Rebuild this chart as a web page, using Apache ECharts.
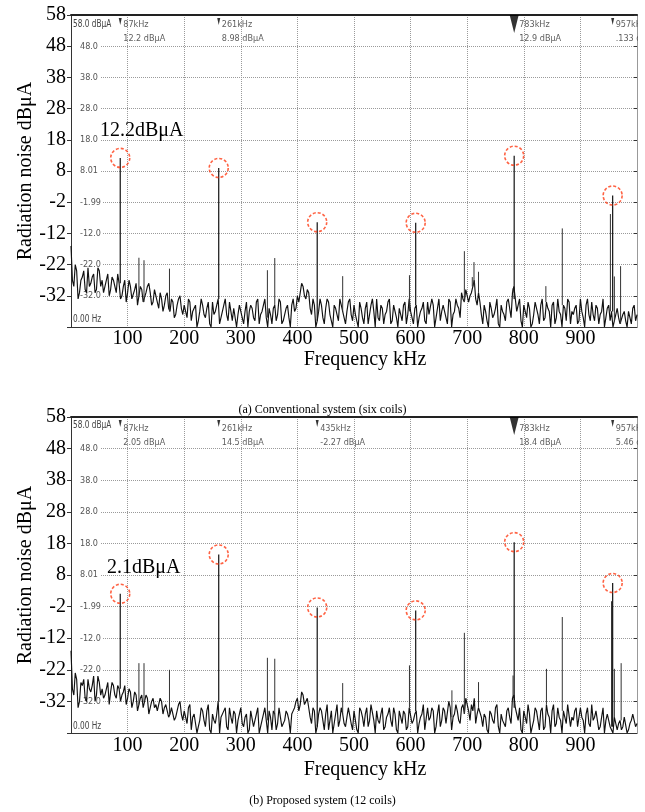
<!DOCTYPE html>
<html><head><meta charset="utf-8">
<script src="https://cdn.jsdelivr.net/npm/echarts@6/dist/echarts.min.js"></script>
<style>html,body{margin:0;padding:0;background:#fff}#c{width:645px;height:812px}</style>
</head><body><div id="c"></div>
<script>
// ---------------- data ----------------
const noiseStepKHz = 5; // spacing of noise-floor samples (kHz); *Mid arrays sit half-way between
const noiseTop = [
-16,-29,-24,-31,-26,-30,-23,-28,-25,-30,-24,-27,-29,-25,-30,-27,-31,-28,-32,-27,
-31,-29,-33,-28,-32,-30,-34,-29,-31,-34,-32,-36,-33,-35,-31,-37,-34,-38,-33,-36,
-35,-39,-34,-37,-35,-40,-33,-38,-36,-41,-34,-37,-33,-39,-35,-38,-34,-40,-36,-38,
-35,-41,-34,-37,-36,-40,-33,-38,-35,-39,-36,-41,-35,-38,-34,-40,-36,-39,-35,-37,
-32,-31,-29,-33,-31,-38,-35,-40,-33,-39,-36,-34,-40,-35,-38,-33,-37,-41,-34,-38,
-35,-40,-34,-39,-36,-41,-35,-37,-33,-40,-36,-38,-34,-41,-35,-39,-36,-40,-34,-38,
-37,-41,-35,-39,-36,-40,-34,-38,-35,-39,-33,-37,-35,-41,-34,-38,-33,-36,-31,-34,
-30,-32,-29,-33,-31,-38,-35,-40,-34,-39,-36,-41,-35,-38,-34,-36,-31,-33,-37,-40,
-35,-39,-36,-41,-34,-38,-35,-40,-34,-37,-35,-41,-33,-38,-35,-40,-34,-37,-36,-41,
-33,-39,-35,-38,-34,-40,-36,-38,-33,-39,-35,-37,-40,-36,-41,-38,-40,-37,-41,-35,
-38];
const noiseTopMid = [
-27,-22,-33,-27,-24,-31,-29,-26,-31,-23,-29,-31,-27,-32,-26,-29,-25,-33,-29,-34,
-27,-33,-30,-35,-29,-34,-31,-28,-35,-30,-34,-31,-37,-32,-36,-33,-39,-35,-32,-38,
-37,-33,-40,-36,-42,-37,-35,-39,-34,-42,-38,-35,-41,-37,-33,-40,-37,-36,-42,-35,
-39,-37,-42,-35,-39,-34,-41,-37,-33,-42,-38,-36,-40,-33,-41,-38,-35,-42,-33,-36,
-34,-28,-32,-30,-36,-33,-42,-37,-35,-41,-33,-38,-42,-36,-40,-35,-39,-37,-33,-40,
-38,-42,-36,-41,-34,-38,-33,-42,-39,-35,-41,-37,-33,-40,-37,-42,-38,-35,-41,-33,
-39,-36,-42,-37,-34,-41,-38,-33,-42,-36,-40,-35,-39,-33,-42,-37,-35,-39,-33,-30,
-34,-31,-27,-35,-34,-41,-37,-42,-36,-38,-33,-42,-37,-40,-33,-39,-29,-37,-33,-42,
-37,-34,-42,-38,-36,-41,-33,-39,-36,-42,-34,-39,-37,-42,-36,-33,-41,-38,-35,-40,
-37,-42,-33,-40,-38,-35,-41,-37,-42,-36,-40,-42,-38,-39,-41,-37,-42,-39,-36,-40];
const noiseBot = [
-16,-30,-25,-32,-27,-31,-25,-29,-24,-30,-26,-28,-30,-26,-29,-27,-31,-28,-30,-27,
-31,-29,-32,-30,-33,-30,-32,-31,-34,-31,-33,-35,-32,-34,-33,-36,-34,-37,-33,-36,
-35,-39,-33,-37,-36,-40,-34,-38,-35,-41,-36,-39,-32,-37,-35,-40,-34,-39,-36,-38,
-34,-40,-36,-41,-35,-38,-34,-40,-36,-38,-35,-41,-36,-39,-34,-40,-35,-38,-36,-34,
-31,-33,-30,-32,-34,-39,-35,-40,-34,-38,-36,-41,-35,-39,-33,-38,-36,-40,-34,-39,
-35,-41,-34,-37,-36,-40,-33,-38,-35,-39,-34,-40,-36,-38,-34,-41,-35,-39,-36,-40,
-34,-38,-35,-39,-36,-41,-34,-37,-35,-40,-33,-38,-35,-39,-34,-37,-33,-38,-34,-36,
-33,-38,-35,-39,-34,-37,-36,-41,-35,-38,-34,-40,-36,-39,-35,-37,-31,-34,-38,-41,
-35,-39,-36,-40,-34,-38,-35,-41,-33,-37,-35,-40,-34,-38,-35,-39,-33,-37,-35,-40,
-34,-38,-36,-39,-33,-37,-35,-40,-34,-38,-36,-40,-37,-41,-38,-40,-37,-41,-38,-36,
-39];
const noiseBotMid = [
-28,-23,-34,-26,-25,-32,-28,-27,-32,-24,-30,-31,-28,-33,-26,-30,-27,-32,-29,-33,
-28,-34,-29,-35,-31,-34,-30,-36,-32,-34,-35,-31,-36,-33,-37,-34,-38,-35,-32,-38,
-37,-34,-41,-36,-42,-38,-35,-40,-33,-42,-38,-36,-42,-37,-34,-41,-37,-35,-42,-36,
-39,-37,-42,-35,-40,-36,-42,-38,-34,-42,-37,-35,-41,-34,-40,-38,-36,-42,-35,-32,
-35,-29,-33,-31,-37,-34,-42,-36,-35,-41,-33,-38,-42,-36,-40,-34,-39,-37,-34,-41,
-38,-42,-35,-40,-34,-38,-33,-42,-38,-36,-41,-37,-34,-40,-36,-42,-37,-35,-41,-34,
-39,-36,-42,-37,-33,-41,-38,-34,-42,-36,-40,-34,-39,-32,-41,-36,-35,-39,-33,-31,
-35,-33,-31,-36,-34,-40,-37,-42,-36,-39,-33,-42,-38,-40,-34,-39,-30,-36,-34,-42,
-37,-33,-42,-38,-35,-41,-34,-40,-36,-42,-33,-39,-37,-42,-35,-33,-40,-38,-34,-40,
-37,-42,-34,-40,-38,-35,-41,-37,-42,-36,-40,-42,-37,-39,-41,-37,-42,-39,-36,-40];
const mainFreq = [87, 261, 435, 609, 783, 957];
const mainTop = [12.2, 8.98, -8.4, -8.6, 12.9, 0.133];
const mainBot = [2.05, 14.5, -2.27, -3.2, 18.4, 5.46];
const sideFreqTop = [120, 129, 174, 347, 360, 480, 598, 695, 709, 712, 720, 781, 839, 868, 953, 960, 971];
const sideTop = [-19.8, -20.6, -23.3, -23.8, -19.9, -25.7, -25.4, -17.7, -26, -21.2, -24.3, -29.6, -28.9, -10.4, -5.8, -25.8, -22.5];
const sideFreqBot = [120, 129, 174, 347, 360, 480, 598, 673, 695, 720, 781, 840, 868, 955, 960, 972];
const sideBot = [-19.9, -19.9, -22, -18.2, -18.5, -26.2, -20.6, -28.5, -10.3, -25.9, -23.8, -21.7, -5.3, -0.3, -21.7, -19.9];
const markerFreqTop = [87, 261, 783, 957];
const markerTextTop = [['87kHz', '12.2 dBμA'], ['261kHz', '8.98 dBμA'], ['783kHz', '12.9 dBμA'], ['957kHz', '.133 dBμA']];
const markerFreqBot = [87, 261, 435, 783, 957];
const markerTextBot = [['87kHz', '2.05 dBμA'], ['261kHz', '14.5 dBμA'], ['435kHz', '-2.27 dBμA'], ['783kHz', '18.4 dBμA'], ['957kHz', '5.46 dBμA']];
const activeMarkerFreq = 783;
const innerYValues = [48, 38, 28, 18, 8, -2, -12, -22, -32];
const innerYLabels = ['48.0', '38.0', '28.0', '18.0', '8.01', '-1.99', '-12.0', '-22.0', '-32.0'];
const refLevelText = '58.0 dBμA';
const startFreqText = '0.00 Hz';
const calloutTop = '12.2dBμA';
const calloutBot = '2.1dBμA';
const captionTop = '(a) Conventional system (six coils)';
const captionBot = '(b) Proposed system (12 coils)';
const xName = 'Frequency kHz';
const yName = 'Radiation noise dBμA';

// ---------------- chart ----------------
const SERIF = '"Liberation Serif","Times New Roman",serif';
const NARROW = '"Liberation Sans Narrow","DejaVu Sans Condensed",sans-serif';
const chart = echarts.init(document.getElementById('c'), null, {renderer: 'canvas'});

const grids = [
  {left: 71, top: 15, width: 566, height: 312},
  {left: 71, top: 417, width: 566, height: 316}
];

function innerLabel(v) {
  const i = innerYValues.indexOf(Math.round(v));
  return i >= 0 ? '{b|' + innerYLabels[i] + '}' : '';
}

const gridLine = {show: true, showMinLine: false, showMaxLine: false,
  lineStyle: {color: '#9a9a9a', type: [1, 1], width: 1}};

const xAxes = [], yAxes = [], series = [];
[0, 1].forEach(g => {
  xAxes.push({
    gridIndex: g, type: 'value', min: 0, max: 1000, interval: 100,
    axisLine: {show: true, onZero: false, lineStyle: {color: '#333', width: 1}},
    axisTick: {show: false},
    axisLabel: {formatter: v => (v === 0 || v === 1000) ? '' : String(v), color: '#000',
      fontFamily: SERIF, fontSize: 20, margin: g === 0 ? 2 : 3},
    splitLine: gridLine,
    name: xName, nameLocation: 'middle', nameGap: g === 0 ? 23 : 27, nameMoveOverlap: false,
    nameTextStyle: {fontFamily: SERIF, fontSize: 20, color: '#000', padding: [0, 0, 0, 22]}
  });
  xAxes.push({
    gridIndex: g, type: 'value', min: 0, max: 1000, position: 'top',
    axisLine: {show: true, onZero: false, lineStyle: {color: '#222', width: 2}},
    axisTick: {show: false}, axisLabel: {show: false}, splitLine: {show: false}
  });
  yAxes.push({
    gridIndex: g, type: 'value', min: -42, max: 58, interval: 10,
    axisLine: {show: true, onZero: false, lineStyle: {color: '#333'}},
    axisTick: {show: true, length: 4, lineStyle: {color: '#333'}},
    axisLabel: {formatter: v => v === -42 ? '' : String(v), color: '#000', fontFamily: SERIF,
      fontSize: 20, margin: 5, padding: [6, 0, 0, 0]},
    splitLine: gridLine,
    name: yName, nameLocation: 'middle', nameGap: 35, nameMoveOverlap: false,
    nameTextStyle: {fontFamily: SERIF, fontSize: 20, color: '#000'}
  });
  yAxes.push({
    gridIndex: g, type: 'value', min: -42, max: 58, interval: 10, position: 'left',
    axisLine: {show: false, onZero: false}, axisTick: {show: false}, splitLine: {show: false},
    axisLabel: {inside: true, margin: 2, formatter: innerLabel,
      rich: {b: {color: '#555', fontFamily: NARROW, fontSize: 9, backgroundColor: '#fff', padding: [1, 2, 1, 7]}}}
  });
  yAxes.push({
    gridIndex: g, type: 'value', min: -42, max: 58, interval: 10, position: 'right',
    axisLine: {show: true, onZero: false, lineStyle: {color: '#999'}},
    axisTick: {show: true, inside: true, length: 3, lineStyle: {color: '#333'}},
    axisLabel: {show: false}, splitLine: {show: false}
  });
});

function buildChart(g, noise, noiseMid, mainVals, sideF, sideV, mkF, mkT) {
  const xi = g * 2, yi = g * 3;
  // noise floor trace: samples interleaved with the half-step samples
  const trace = [];
  noise.forEach((v, i) => {
    trace.push([i * noiseStepKHz, v]);
    if (i < noiseMid.length) trace.push([(i + 0.5) * noiseStepKHz, noiseMid[i]]);
  });
  series.push({
    type: 'line', xAxisIndex: xi, yAxisIndex: yi, symbol: 'none', animation: false,
    data: trace, lineStyle: {color: '#111', width: 1.15}, z: 3
  });
  // spectral lines (side spurs)
  const sideData = [];
  sideF.forEach((f, i) => {
    const base = noise[Math.round(f / noiseStepKHz)];
    sideData.push([f, base], [f, sideV[i]], [f, '-']);
  });
  series.push({
    type: 'line', xAxisIndex: xi, yAxisIndex: yi, symbol: 'none', animation: false,
    connectNulls: false, data: sideData, lineStyle: {color: '#333', width: 1}, z: 4
  });
  // main harmonic peaks
  const mainData = [];
  mainFreq.forEach((f, i) => {
    const base = noise[Math.round(f / noiseStepKHz)];
    mainData.push([f, base], [f, mainVals[i]], [f, '-']);
  });
  series.push({
    type: 'line', xAxisIndex: xi, yAxisIndex: yi, symbol: 'none', animation: false,
    connectNulls: false, data: mainData, lineStyle: {color: '#111', width: 1.2}, z: 5
  });
  // dashed red circles
  series.push({
    type: 'scatter', xAxisIndex: xi, yAxisIndex: yi, animation: false, symbol: 'circle',
    symbolSize: 19, data: mainFreq.map((f, i) => [f, mainVals[i]]),
    itemStyle: {color: 'rgba(0,0,0,0)', borderColor: '#ff3b14', borderWidth: 1.6, borderType: [3, 2]},
    z: 6, silent: true
  });
  // marker triangles
  series.push({
    type: 'scatter', xAxisIndex: xi, yAxisIndex: yi, animation: false, clip: false,
    symbol: 'path://M0,0 L10,0 L5,10 Z',
    data: mkF.map(f => {
      const big = f === activeMarkerFreq;
      return {value: [f, 58], symbolSize: big ? [9, 18] : [3, 7], symbolOffset: [0, big ? 9 : 6.5]};
    }),
    itemStyle: {color: '#000'}, z: 7, silent: true
  });
  // marker readouts
  series.push({
    type: 'scatter', xAxisIndex: xi, yAxisIndex: yi, animation: false, clip: false,
    symbolSize: 0,
    data: mkF.map((f, i) => {
      const big = f === activeMarkerFreq;
      return {value: [f, 58], name: mkT[i].join('\n'), label: {distance: big ? 5 : 3}};
    }),
    label: {show: true, position: 'right', offset: [0, g === 0 ? 17 : 19], formatter: p => p.name,
      fontFamily: NARROW, fontSize: 9, lineHeight: 14, color: '#333', align: 'left'},
    itemStyle: {color: 'rgba(0,0,0,0)'}, z: 8, silent: true
  });
}
buildChart(0, noiseTop, noiseTopMid, mainTop, sideFreqTop, sideTop, markerFreqTop, markerTextTop);
buildChart(1, noiseBot, noiseBotMid, mainBot, sideFreqBot, sideBot, markerFreqBot, markerTextBot);

const smallTxt = {fontFamily: NARROW, fontSize: 10, fill: '#444'};
const option = {
  backgroundColor: '#fff',
  animation: false,
  grid: grids,
  xAxis: xAxes,
  yAxis: yAxes,
  series: series,
  title: [
    {text: captionTop, left: 'center', top: 399, textStyle: {fontFamily: SERIF, fontSize: 12, fontWeight: 'normal', color: '#000'}},
    {text: captionBot, left: 'center', top: 790, textStyle: {fontFamily: SERIF, fontSize: 12, fontWeight: 'normal', color: '#000'}}
  ],
  graphic: [
    // white masks: the instrument readout is cut off at the right border of each plot
    {type: 'rect', left: 638, top: 17, z: 20, shape: {width: 7, height: 32}, style: {fill: '#fff'}},
    {type: 'rect', left: 638, top: 419, z: 20, shape: {width: 7, height: 32}, style: {fill: '#fff'}},
    {type: 'text', left: 73, top: 19, z: 10, scaleX: 0.82, style: Object.assign({text: refLevelText}, smallTxt)},
    {type: 'text', left: 73, top: 314, z: 10, scaleX: 0.82, style: Object.assign({text: startFreqText}, smallTxt)},
    {type: 'text', left: 73, top: 420, z: 10, scaleX: 0.82, style: Object.assign({text: refLevelText}, smallTxt)},
    {type: 'text', left: 73, top: 721, z: 10, scaleX: 0.82, style: Object.assign({text: startFreqText}, smallTxt)},
    {type: 'text', left: 100, top: 121, z: 10, style: {text: calloutTop, fontFamily: SERIF, fontSize: 20, fill: '#000'}},
    {type: 'text', left: 107, top: 558, z: 10, style: {text: calloutBot, fontFamily: SERIF, fontSize: 20, fill: '#000'}}
  ]
};
chart.setOption(option);
</script>
</body></html>
